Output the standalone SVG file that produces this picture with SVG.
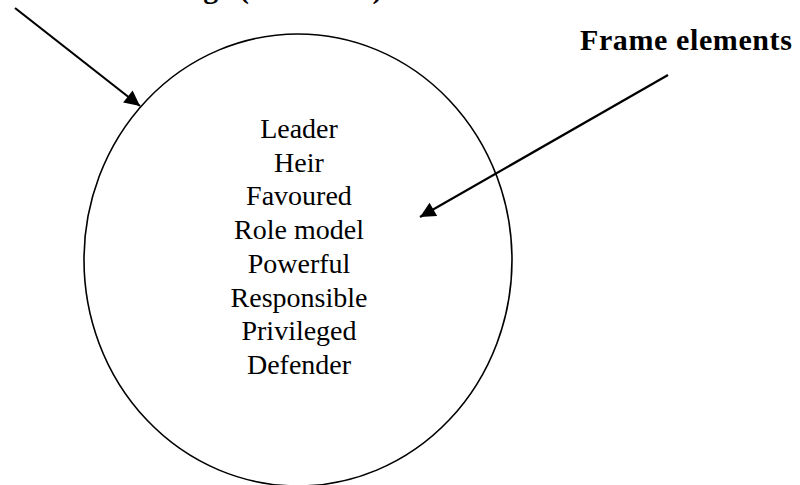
<svg xmlns="http://www.w3.org/2000/svg" width="800" height="485" viewBox="0 0 800 485">
  <style>
    .title { font-family: "Liberation Serif", "Times New Roman", serif; font-weight: bold; font-size: 30px; fill: #000; }
    .item { font-family: "Liberation Serif", "Times New Roman", serif; font-size: 28px; fill: #000; text-anchor: middle; }
    .conn { stroke: #000; stroke-width: 2.2; fill: none; marker-end: url(#head); }
  </style>
  <defs>
    <marker id="head" viewBox="0 0 10 10" refX="10" refY="5" markerWidth="9" markerHeight="7" markerUnits="strokeWidth" orient="auto">
      <path d="M0,0 L10,5 L0,10 Z" fill="#000"/>
    </marker>
  </defs>
  <rect width="800" height="485" fill="#fff"/>

  <!-- frame heading, running off the top edge -->
  <g id="frame-heading">
    <text class="title" x="120" y="-2">Heritage (Firstborn)</text>
  </g>

  <!-- the frame: ellipse with its elements listed inside -->
  <g id="frame">
    <ellipse cx="298" cy="260" rx="214" ry="226" fill="none" stroke="#000" stroke-width="1.6"/>
    <text class="item" x="299" y="138">Leader</text>
    <text class="item" x="299" y="171.7">Heir</text>
    <text class="item" x="299" y="205.4">Favoured</text>
    <text class="item" x="299" y="239.1">Role model</text>
    <text class="item" x="299" y="272.8">Powerful</text>
    <text class="item" x="299" y="306.5">Responsible</text>
    <text class="item" x="299" y="340.2">Privileged</text>
    <text class="item" x="299" y="373.9">Defender</text>
  </g>

  <g id="frame-elements-label">
    <text class="title" x="580" y="50" letter-spacing="0.6">Frame elements</text>
  </g>

  <g id="connectors">
    <line class="conn" x1="15" y1="8" x2="140" y2="106"/>
    <line class="conn" x1="668" y1="75" x2="420" y2="217"/>
  </g>
</svg>
